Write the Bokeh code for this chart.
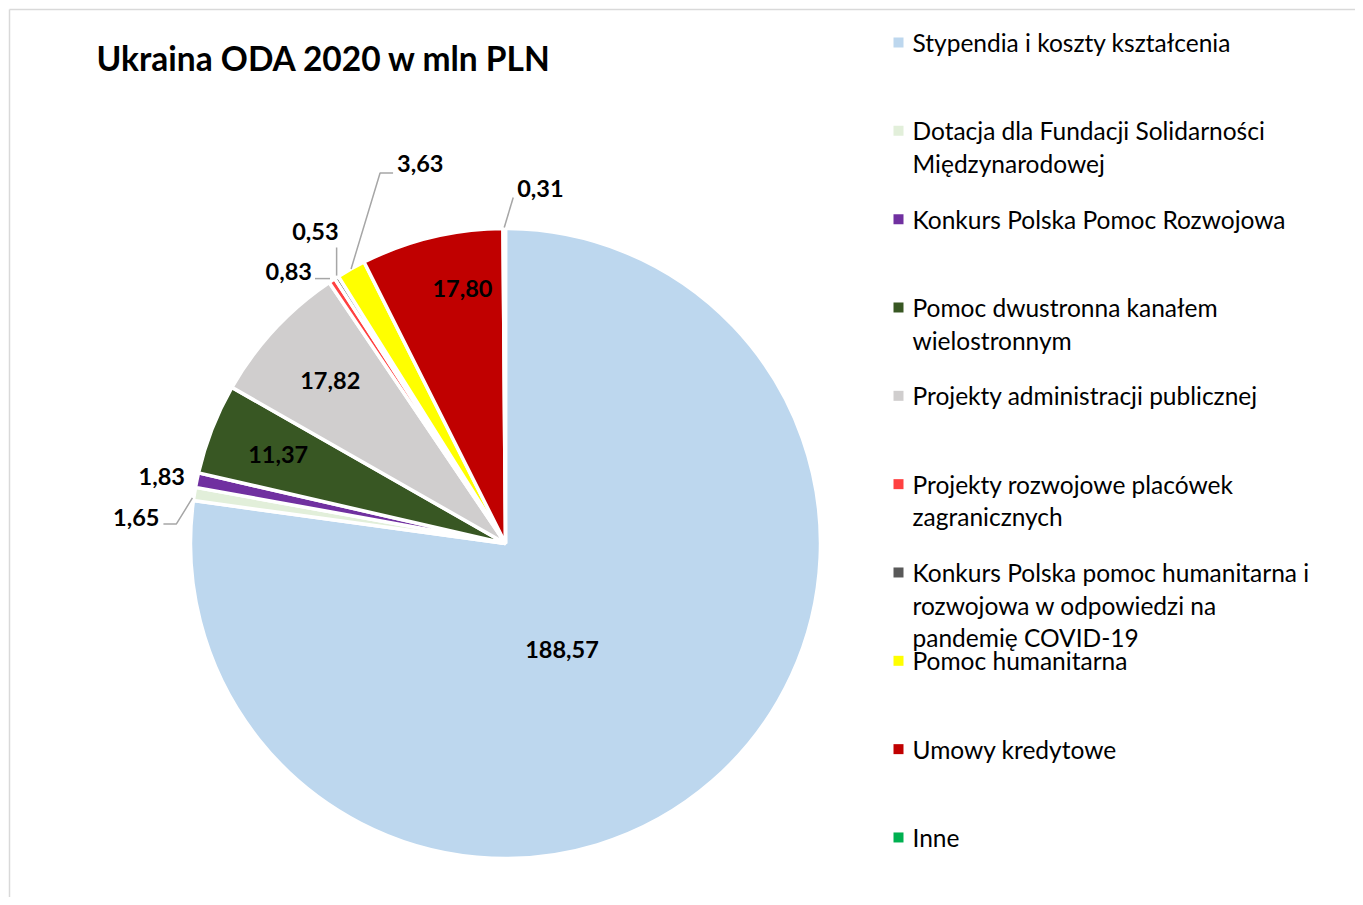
import numpy as np
from bokeh.plotting import figure
from bokeh.models import Range1d
from bokeh.core.properties import value
from bokeh.embed import file_html
from bokeh.resources import INLINE

# ---------------- data ----------------
categories = [
    "Stypendia i koszty kształcenia",
    "Dotacja dla Fundacji Solidarności\nMiędzynarodowej",
    "Konkurs Polska Pomoc Rozwojowa",
    "Pomoc dwustronna kanałem\nwielostronnym",
    "Projekty administracji publicznej",
    "Projekty rozwojowe placówek\nzagranicznych",
    "Konkurs Polska pomoc humanitarna i\nrozwojowa w odpowiedzi na\npandemię COVID-19",
    "Pomoc humanitarna",
    "Umowy kredytowe",
    "Inne",
]
values = [188.57, 1.65, 1.83, 11.37, 17.82, 0.83, 0.53, 3.63, 17.80, 0.31]
value_labels = ["188,57", "1,65", "1,83", "11,37", "17,82", "0,83", "0,53", "3,63", "17,80", "0,31"]
colors = ["#BDD7EE", "#E2EFDA", "#7030A0", "#385723", "#D0CECE",
          "#FF4040", "#595959", "#FFFF00", "#C00000", "#00B050"]
title = "Ukraina ODA 2020 w mln PLN"

# ---------------- layout ----------------
W, H = 1355, 897
FONT = "Lato"
CX, CY, R = 505, 354, 315   # pie centre (data units == pixels), radius

p = figure(width=W, height=H, output_backend="svg", toolbar_location=None,
           x_range=Range1d(0, W), y_range=Range1d(0, H), min_border=0)
p.axis.visible = False
p.grid.visible = False
p.outline_line_color = None
p.background_fill_color = "white"
p.border_fill_color = "white"

# chart-area border (left and top edges visible in the window)
p.segment(x0=[9, 9], y0=[0, H - 9], x1=[9, W], y1=[H - 9, H - 9],
          line_color="#D9D9D9", line_width=1.5)

# ---------------- pie ----------------
vals = np.array(values)
total = vals.sum()
cum = np.concatenate([[0], np.cumsum(vals)])
start = np.pi / 2 - cum[:-1] / total * 2 * np.pi
end = np.pi / 2 - cum[1:] / total * 2 * np.pi
mid = (start + end) / 2

p.wedge(x=CX, y=CY, radius=R, radius_units="screen",
        start_angle=start.tolist(), end_angle=end.tolist(), direction="clock",
        fill_color=colors, line_color="white", line_width=3.5)

LABEL_SIZE = "23.5px"
# inside labels: (index, radial distance, angular nudge in degrees)
inside = [(0, 120, -13), (3, 244, 0), (4, 239, 0), (8, 259, -4)]
for i, rr, nudge in inside:
    a = mid[i] + np.deg2rad(nudge)
    p.text(x=[CX + rr * np.cos(a)], y=[CY + rr * np.sin(a)], text=[value_labels[i]],
           text_font=value(FONT), text_font_style="bold", text_font_size=LABEL_SIZE,
           text_align="center", text_baseline="middle", text_color="black")

# outside labels with leader lines; offsets (data units, y up) from slice's outer edge point
outside = {
    1: ([(-2, -4), (-18, -30), (-31, -30)], (-35, -24), "right"),
    2: ([], (-12, 4), "right"),
    5: ([(-2, 2), (-17, 2)], (-20, 9), "right"),
    6: ([(0, 2), (0, 30)], (2, 46), "right"),
    7: ([(0, 0), (29, 96), (42, 96)], (46, 105), "left"),
    9: ([(0, 1), (9, 31)], (13, 40), "left"),
}
for i, (pts, (lx, ly), align) in outside.items():
    ex = CX + R * np.cos(mid[i])
    ey = CY + R * np.sin(mid[i])
    if pts:
        p.line(x=[ex + dx for dx, dy in pts], y=[ey + dy for dx, dy in pts],
               line_color="#A6A6A6", line_width=1.5)
    p.text(x=[ex + lx], y=[ey + ly], text=[value_labels[i]],
           text_font=value(FONT), text_font_style="bold", text_font_size=LABEL_SIZE,
           text_align=align, text_baseline="middle", text_color="black")

# ---------------- title ----------------
p.text(x=[96], y=[H - 57], text=[title], text_font=value(FONT), text_font_style="bold",
       text_font_size="33.5px", text_align="left", text_baseline="middle", text_color="black")

# ---------------- legend (manual) ----------------
LX, LY0, STEP, LINE = 898, H - 42, 88.33, 32.7
for i, (cat, col) in enumerate(zip(categories, colors)):
    y0 = LY0 - i * STEP
    p.scatter(x=[LX], y=[y0], marker="square", size=10, fill_color=col, line_color=None)
    for k, line in enumerate(cat.split("\n")):
        p.text(x=[LX + 14], y=[y0 - k * LINE], text=[line], text_font=value(FONT),
               text_font_size="24.5px", text_align="left", text_baseline="middle",
               text_color="black")

open("out.html", "w").write(file_html(p, INLINE))
